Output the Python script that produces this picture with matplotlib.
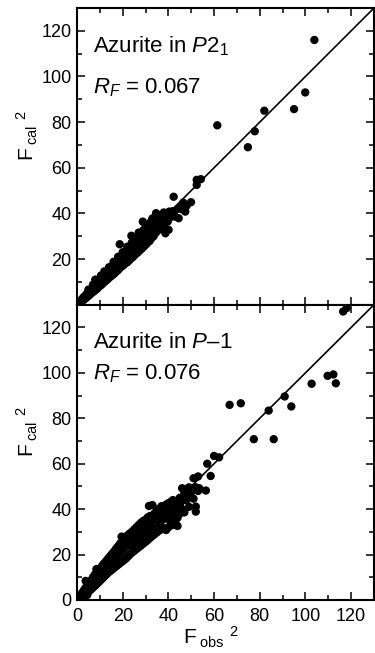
import matplotlib
matplotlib.use("Agg")
import matplotlib.pyplot as plt
import numpy as np

# P2_1 refinement: (F_obs^2, F_cal^2)
top_pts = [
    (0.5, 0.5), (1, 1.2), (1.3, 0.8), (1.8, 2.0), (2, 1.4), (2.5, 2.8), (2.8, 2.0), (3, 3.4),
    (3.3, 2.5), (3.8, 4.2), (4, 3.0), (4.4, 4.8), (4.7, 3.6), (5, 5.6), (5.3, 4.2), (5.7, 6.2),
    (6, 4.8), (6.4, 7.0), (6.7, 5.4), (7, 7.6), (7.3, 5.8), (7.8, 8.6), (8, 6.4), (8, 11.0),
    (8.5, 9.2), (8.8, 7.0), (9.2, 10.0), (9.5, 7.8), (10, 11.2), (10.3, 8.4), (10.8, 12.0),
    (11, 9.0), (11.5, 12.6), (11.8, 9.8), (12.2, 13.4), (12.5, 10.4), (13, 14.2), (13.3, 11.0),
    (13.8, 15.0), (14, 11.8), (14.5, 15.8), (14.8, 12.4), (15.2, 16.8), (15.5, 13.0),
    (16, 17.6), (16.3, 13.6), (16.8, 18.4), (17, 14.4), (17.5, 19.4), (17.8, 15.0),
    (18.2, 20.0), (18.7, 26.5), (18.5, 15.8), (19, 20.8), (19.3, 16.6), (19.8, 21.6),
    (20.2, 17.2), (20.8, 22.4), (21, 18.0), (21.6, 23.2), (22, 18.6), (22.5, 24.0),
    (22.8, 19.4), (23.3, 25.0), (23.8, 30.2), (23.6, 20.2), (24.2, 25.8), (24.6, 21.0),
    (25.2, 26.8), (25.5, 22.0), (26.2, 27.6), (26.5, 22.8), (27, 28.6), (27.5, 23.8),
    (28, 29.4), (28.8, 36.4), (28.4, 24.6), (29, 30.4), (29.4, 25.6), (30, 31.6), (30.4, 26.6),
    (31, 32.0), (31.7, 34.3), (31.7, 27.8), (32.4, 36.4), (32.5, 29.0), (33.3, 35.0),
    (33.5, 30.0), (34.6, 40.1), (34.5, 31.5), (35.5, 37.0), (36.1, 36.0), (36.5, 33.0),
    (37.8, 37.9), (38, 34.2), (38.7, 31.3), (39.7, 36.4), (40.4, 40.8), (40.1, 32.8),
    (41, 38.4), (42.3, 47.3), (43, 38.6), (44.5, 37.9), (45, 42.6), (46.5, 44.7), (47.4, 40.8),
    (48, 43.4), (49.9, 44.9), (52.4, 54.7), (54.2, 55.0), (52.4, 52.5), (61.4, 78.6),
    (74.8, 69.0), (77.8, 76.0), (82, 85.0), (95, 85.7), (99.9, 93.0), (103.9, 116.0),
    (10.5, 12.8), (12, 14.6), (14, 16.4), (16, 18.8), (18, 21.0), (20, 23.0), (22, 25.4),
    (24, 27.2), (26, 29.0), (27, 31.6), (29, 32.6), (30, 35.0), (33, 37.8), (36, 39.2),
    (38, 40.4), (5, 6.6), (7, 8.8), (9, 10.6), (11, 10.6), (13, 12.8), (15, 14.6),
    (17, 16.6), (19, 18.6), (21, 20.4), (23, 22.2), (25, 24.2), (27, 26.2), (29, 28.2),
    (31, 30.2), (33, 32.2), (35, 34.2), (37, 35.6), (39, 38.0), (42, 41.0), (44, 42.0),
    (46, 41.8),
]

# P-1 refinement: (F_obs^2, F_cal^2)
bot_pts = [
    (0.5, 0.5), (1, 1.5), (1, 0.8), (1.5, 2.2), (1.5, 1.0), (2, 2.8), (2, 1.6),
    (2.5, 3.4), (2.5, 2.0), (2.5, 2.6), (3, 4.2), (3, 2.4), (3, 3.2), (3.5, 5.0), (3.5, 2.8),
    (3.8, 8.4), (4, 5.6), (4, 3.2), (4, 4.4), (4.5, 6.2), (4.5, 2.2), (4.5, 4.0),
    (5, 6.8), (5, 3.6), (5, 5.2), (5.5, 7.6), (5.5, 4.2), (5.5, 5.8), (6, 8.4), (6, 4.6),
    (6, 6.4), (6.5, 9.0), (6.5, 5.0), (6.5, 7.2), (7, 10.0), (7, 5.6), (7, 7.8),
    (7.5, 10.6), (7.5, 6.0), (7.5, 8.4), (8, 11.4), (8, 6.4), (8, 9.0), (8.5, 13.6),
    (8.5, 7.0), (8.5, 9.8), (9, 12.0), (9, 7.4), (9, 10.4), (9.5, 12.8), (9.5, 8.0),
    (9.5, 11.0), (10, 13.6), (10, 8.4), (10, 11.6), (10.5, 14.2), (10.5, 9.0), (10.5, 12.0),
    (11, 15.0), (11, 9.4), (11, 12.6), (11.5, 15.6), (11.5, 10.0), (11.5, 13.2),
    (12, 16.2), (12, 10.4), (12, 13.8), (12.5, 16.8), (12.5, 11.0), (12.5, 14.4),
    (13, 17.4), (13, 11.4), (13, 15.0), (13.5, 18.0), (13.5, 12.0), (13.5, 15.6),
    (14, 18.6), (14, 12.4), (14, 16.2), (14.5, 19.2), (14.5, 12.8), (14.5, 16.8),
    (15, 19.8), (15, 13.2), (15, 17.2), (15.5, 20.4), (15.5, 13.6), (15.5, 17.8),
    (16, 21.0), (16, 14.0), (16, 18.4), (16.5, 21.6), (16.5, 14.4), (16.5, 19.0),
    (17, 22.4), (17, 14.8), (17, 19.6), (17.5, 23.0), (17.5, 15.2), (17.5, 20.0),
    (18, 23.6), (18, 15.6), (18, 20.6), (18.5, 24.2), (18.5, 16.0), (18.5, 21.2),
    (19, 25.0), (19, 16.4), (19, 21.8), (19.5, 27.9), (19.5, 16.8), (19.5, 22.4),
    (20, 25.8), (20, 17.2), (20, 23.0), (20.5, 26.4), (20.5, 17.6), (20.5, 23.6),
    (21, 27.0), (21, 18.0), (21, 24.0), (21.5, 28.0), (21.5, 18.4), (21.5, 24.6),
    (22, 27.6), (22, 19.0), (22, 25.2), (22.5, 28.6), (22.5, 19.4), (22.5, 25.8),
    (23, 29.2), (23, 20.0), (23, 26.4), (24, 30.0), (24, 20.8), (24, 27.0), (24, 23.6),
    (25, 31.0), (25, 21.6), (25, 28.0), (25, 24.6), (26, 32.0), (26, 22.4), (26, 29.0),
    (26, 25.6), (27, 33.0), (27, 23.2), (27, 30.0), (27, 26.6), (28, 34.0), (28, 24.0),
    (28, 31.0), (28, 27.6), (29, 34.8), (29, 24.8), (29, 32.0), (29, 28.6), (30, 35.4),
    (30, 25.6), (30, 33.0), (30, 29.6), (31, 36.4), (31, 26.4), (31, 33.8), (31, 30.4),
    (31.5, 41.4), (32, 37.0), (32, 27.4), (32, 34.6), (32, 31.2), (33, 41.8), (33, 28.2),
    (33, 35.4), (33, 32.0), (34, 38.2), (34, 29.0), (34, 36.0), (35, 39.4), (35, 29.8),
    (35, 36.8), (36, 40.2), (36, 30.6), (36, 37.6), (36, 33.4), (37, 41.3), (37, 31.2),
    (37, 38.4), (37, 35.0), (38, 39.6), (38, 31.6), (38, 35.6), (39, 42.0), (39, 30.8),
    (39, 36.4), (40, 42.6), (40, 32.0), (40, 38.0), (41, 43.2), (41, 34.0), (41, 39.8),
    (42, 44.0), (42, 33.0), (42, 37.0), (43, 42.0), (43, 34.6), (43, 39.0), (44, 32.6),
    (44, 41.2), (44, 36.2), (45, 45.0), (45, 38.0), (45, 42.0), (46, 49.2), (46, 40.0),
    (46, 43.6), (47, 47.0), (47, 38.6), (48, 48.6), (48, 44.0), (49, 49.6), (49, 41.0),
    (49, 46.0), (50, 47.6), (51, 53.6), (51, 44.6), (52, 38.9), (52, 41.1), (52, 49.6),
    (53, 54.4), (53, 48.0), (53.5, 49.2), (56.4, 48.2), (57, 60.0), (58.5, 54.6),
    (60, 63.4), (62.2, 62.8), (66.8, 85.9), (71.7, 86.6), (77.4, 70.8), (83.9, 83.4),
    (86.1, 70.8), (90.9, 89.6), (93.8, 85.2), (102.7, 95.2), (109.7, 98.7), (112.2, 99.3),
    (113.3, 95.4), (116.5, 127.0), (118, 128.5),
]

panel_titles = ["Azurite in $P2_1$", "Azurite in $P$\u20131"]
panel_rf = ["$R_F$ = 0.067", "$R_F$ = 0.076"]
title_y = [110.5, 111.1]
rf_y = [92.8, 96.9]

plt.rcParams["font.family"] = ["Liberation Sans", "DejaVu Sans"]
plt.rcParams["mathtext.fontset"] = "custom"
plt.rcParams["mathtext.rm"] = "Liberation Sans"
plt.rcParams["mathtext.it"] = "Liberation Sans:italic"
plt.rcParams["mathtext.bf"] = "Liberation Sans:bold"

fig = plt.figure(figsize=(3.75, 6.53), dpi=100)
left, width = 77 / 375, 297 / 375
ax_top = fig.add_axes([left, 1 - 304.7 / 653, width, 296.7 / 653])
ax_bot = fig.add_axes([left, 1 - 600 / 653, width, 295.3 / 653])

for i, (ax, pts) in enumerate([(ax_top, top_pts), (ax_bot, bot_pts)]):
    arr = np.array(pts)
    ax.plot([0, 130], [0, 130], color="black", lw=1.2, zorder=2)
    ax.scatter(arr[:, 0], arr[:, 1], s=36, color="black", edgecolors="none", zorder=3)
    ax.set_xlim(0, 130)
    ax.set_ylim(0, 130)
    ax.set_xticks(np.arange(0, 121, 20))
    ax.set_xticks(np.arange(10, 130, 20), minor=True)
    ax.set_yticks(np.arange(0, 121, 20))
    ax.set_yticks(np.arange(10, 130, 20), minor=True)
    ax.tick_params(which="both", direction="in", top=True, right=True, width=1.1, labelsize=13)
    ax.tick_params(which="major", length=5.5)
    ax.tick_params(which="minor", length=3.5)
    ax.tick_params(axis="y", pad=4)
    ax.tick_params(axis="x", pad=6)
    for sp in ax.spines.values():
        sp.set_linewidth(1.5)
    ax.text(7, title_y[i], panel_titles[i], fontsize=16)
    ax.text(7, rf_y[i], panel_rf[i], fontsize=16)
    ax.set_ylabel(r"F$_{\;\mathrm{cal}}$ $^{2}$", fontsize=15)
    ax.yaxis.set_label_coords(-0.125, 0.57)

ax_top.tick_params(axis="x", labelbottom=False)
ax_top.set_yticklabels(["", "20", "40", "60", "80", "100", "120"])
ax_bot.set_xlabel(r"F$_{\;\mathrm{obs}}$ $^{2}$", fontsize=15)
ax_bot.xaxis.set_label_coords(0.45, -0.083)

fig.savefig("out.png", dpi=100)
plt.close(fig)
